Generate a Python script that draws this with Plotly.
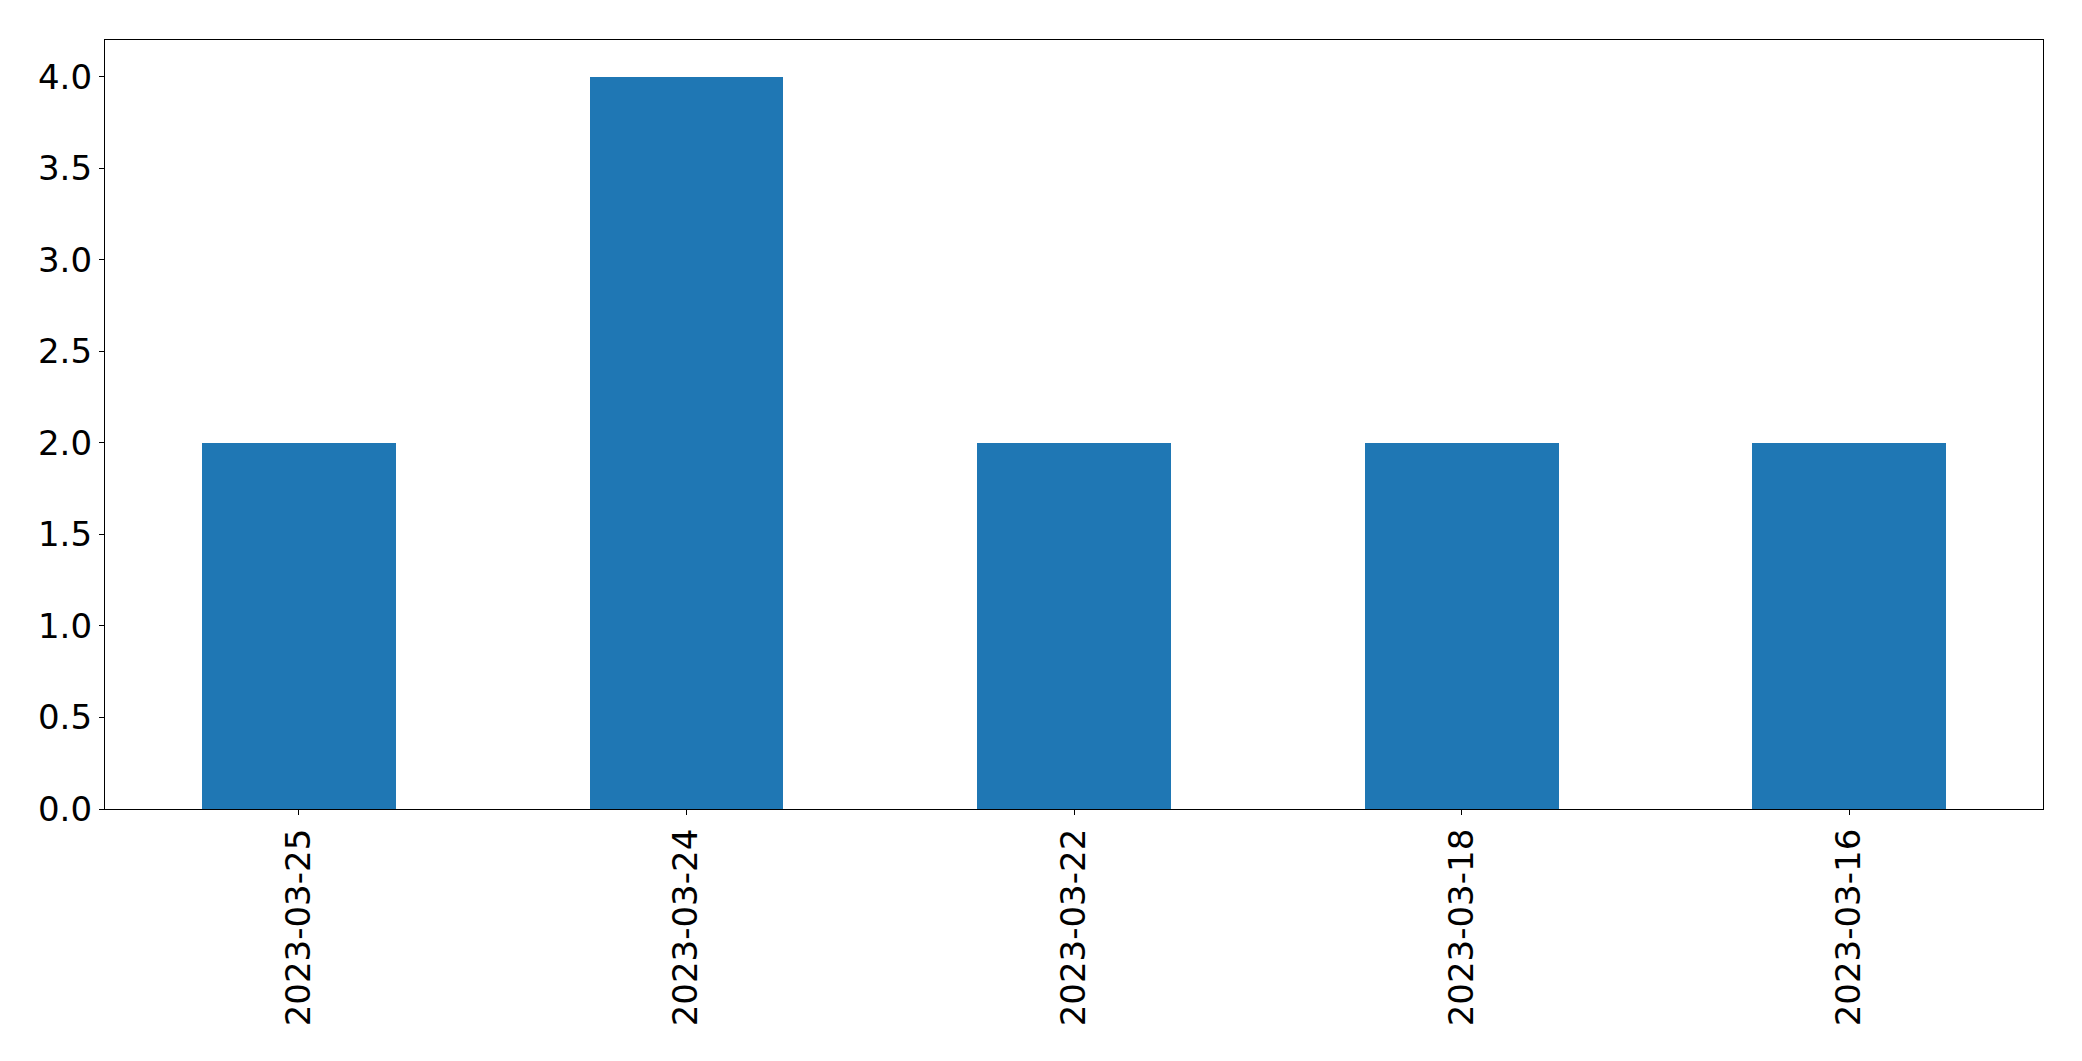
import plotly.graph_objects as go

dates = ["2023-03-25", "2023-03-24", "2023-03-22", "2023-03-18", "2023-03-16"]
counts = [2, 4, 2, 2, 2]
y_ticks = [0.0, 0.5, 1.0, 1.5, 2.0, 2.5, 3.0, 3.5, 4.0]
y_tick_labels = ["0.0", "0.5", "1.0", "1.5", "2.0", "2.5", "3.0", "3.5", "4.0"]

fig = go.Figure(go.Bar(x=list(range(len(dates))), y=counts, width=0.5,
                       marker=dict(color="#1f77b4", line=dict(width=0))))

font = dict(family="DejaVu Sans", size=34, color="black")
fig.update_layout(
    width=2074, height=1053,
    margin=dict(l=97, r=39, t=32, b=252, autoexpand=False),
    paper_bgcolor="white", plot_bgcolor="white",
    showlegend=False, bargap=0,
    font=font,
)
fig.update_xaxes(
    range=[-0.5, 4.5], tickmode="array", tickvals=list(range(len(dates))),
    ticktext=dates, tickangle=-90, ticks="outside", ticklen=5, tickwidth=1.3,
    tickcolor="black", showline=True, linecolor="black", linewidth=1.3,
    mirror=True, showgrid=False, zeroline=False, tickfont=font, automargin=False,
)
fig.update_yaxes(
    range=[0, 4.2], tickmode="array", tickvals=y_ticks, ticktext=y_tick_labels,
    ticks="outside", ticklen=5, tickwidth=1.3, tickcolor="black",
    showline=True, linecolor="black", linewidth=1.3, mirror=True,
    showgrid=False, zeroline=False, tickfont=font, automargin=False,
)
fig.write_html("out.html")
